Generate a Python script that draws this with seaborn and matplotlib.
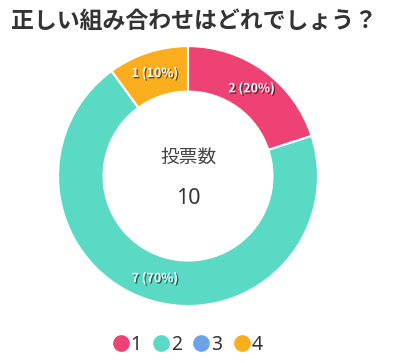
import matplotlib
matplotlib.use("Agg")
import matplotlib.pyplot as plt
import matplotlib.patheffects as pe
from matplotlib.lines import Line2D
import numpy as np
import seaborn as sns

# data
options = ["1", "2", "3", "4"]
votes = [2, 7, 0, 1]
colors = ["#EE4174", "#5ADAC5", "#6CA3E8", "#FAAE1E"]
title = "正しい組み合わせはどれでしょう？"
center_label = "投票数"

sns.set_theme(style="white")
plt.rcParams["font.family"] = ["Noto Sans CJK JP", "DejaVu Sans"]

fig = plt.figure(figsize=(3.93, 3.63), dpi=100)
fig.patch.set_facecolor("white")
ax = fig.add_axes([0.1476, 0.157, 0.6616, 0.716])

# zero-vote options draw nothing in the ring
shown = [(o, v, c) for o, v, c in zip(options, votes, colors) if v > 0]
total = sum(votes)
wedges, _ = ax.pie(
    [v for _, v, _ in shown],
    colors=[c for _, _, c in shown],
    startangle=90,
    counterclock=False,
    radius=1.0,
    wedgeprops=dict(width=0.35, edgecolor="white", linewidth=1.5),
)

for w, (o, v, c) in zip(wedges, shown):
    ang = np.deg2rad((w.theta1 + w.theta2) / 2)
    r = 0.83
    ax.text(r * np.cos(ang), r * np.sin(ang), f"{v} ({v / total * 100:.0f}%)",
            ha="center", va="center", color="white", fontsize=9, fontweight="bold",
            path_effects=[pe.withSimplePatchShadow(offset=(1, -1), shadow_rgbFace="black", alpha=0.55)])

ax.text(0, 0.14, center_label, ha="center", va="center", fontsize=13.5, color="#444444")
ax.text(0, -0.17, str(total), ha="center", va="center", fontsize=15.5, color="#333333",
        family=["Noto Sans", "DejaVu Sans"])
ax.set_xlim(-1, 1)
ax.set_ylim(-1, 1)
ax.set_aspect("equal")
ax.axis("off")

fig.text(0.028, 0.94, title, ha="left", va="center", fontsize=16.5, fontweight="bold", color="#333333")

handles = [Line2D([0], [0], marker="o", linestyle="", markersize=11,
                  markerfacecolor=c, markeredgecolor=c) for c in colors]
fig.legend(handles, options, loc="center", bbox_to_anchor=(0.478, 0.05), ncol=4,
           frameon=False, handletextpad=0.1, columnspacing=0.6, handlelength=0.8,
           prop={"family": ["Noto Sans", "DejaVu Sans"], "size": 14}, labelcolor="#333333")

fig.savefig("out.png", dpi=100)
